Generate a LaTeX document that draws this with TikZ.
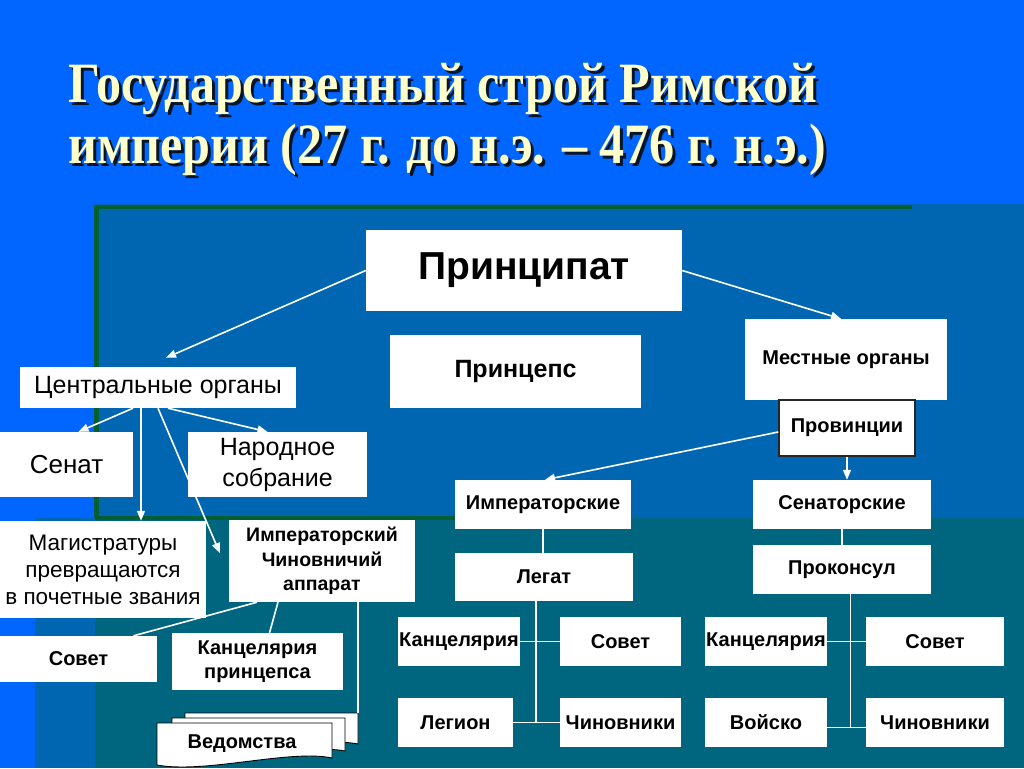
\documentclass[tikz,border=0pt]{standalone}
\usepackage{fontspec}
\setmainfont{Liberation Sans}
\newfontfamily\titlefont[FakeStretch=0.88]{Liberation Serif}
\usetikzlibrary{arrows.meta,calc}
\definecolor{bgblue}{RGB}{0,102,255}
\definecolor{midblue}{RGB}{0,102,178}
\definecolor{tealc}{RGB}{0,102,128}
\definecolor{greenc}{RGB}{0,95,50}
\definecolor{titlecol}{RGB}{255,255,204}
\definecolor{shadowc}{RGB}{10,20,40}
\newcommand{\shadowtext}[1]{\makebox[0pt][l]{\hspace{3pt}\raisebox{-3pt}{\textcolor{shadowc}{#1}}}#1}
\tikzset{
  box/.style={fill=white, inner sep=0pt, align=center, text=black},
  bb/.style={box, font=\fontsize{20}{24}\selectfont\bfseries},
  rb/.style={box, font=\fontsize{25}{31}\selectfont},
  arr/.style={draw=white, line width=1.6pt, -{Triangle[length=10pt,width=8pt]}},
  ln/.style={draw=white, line width=1.6pt},
  doc/.style={fill=white, draw=black, line width=0.9pt},
  ttl/.style={anchor=base west, text=titlecol, font=\titlefont\bfseries\fontsize{57}{61}\selectfont}
}
\begin{document}
\begin{tikzpicture}[x=1pt,y=-1pt]
\useasboundingbox (0,0) rectangle (1024,768);
% background
\fill[bgblue] (0,0) rectangle (1024,768);
\fill[midblue] (95,204) rectangle (1024,768);
\fill[midblue] (35,518) rectangle (95,768);
\fill[tealc] (95,518) rectangle (1024,768);
\fill[greenc] (94,205) rectangle (912,209);
\fill[greenc] (94,205) rectangle (99,518);
\fill[greenc] (95,516) rectangle (455,519.5);
% title
\node[ttl] (t1) at (65,102) {\shadowtext{Государственный строй Римской}};
\node[ttl] (t2) at (65,163) {\shadowtext{империи (27 г. до н.э. – 476 г. н.э.)}};
% top
\node[box, font=\fontsize{39}{44}\selectfont\bfseries, minimum width=316pt, minimum height=81pt] (princ) at (524,270.5) {Принципат};
\node[box, font=\fontsize{25}{30}\selectfont\bfseries, minimum width=251pt, minimum height=73pt] (princeps) at (515.5,371.5) {Принцепс};
\node[bb, minimum width=202pt, minimum height=81pt] (mest) at (846,359.5) {Местные органы};
\node[bb, draw=black!85, line width=1.5pt, minimum width=136pt, minimum height=56pt] (prov) at (847,428) {Провинции};
% central
\node[rb, minimum width=276pt, minimum height=41pt] (central) at (158,387.5) {Центральные органы};
\node[rb, font=\fontsize{26}{31}\selectfont, minimum width=133pt, minimum height=65pt] (senat) at (66.5,464.5) {Сенат};
\node[rb, minimum width=179pt, minimum height=65pt] (narod) at (277.5,464.5) {Народное\\собрание};
\node[rb, font=\fontsize{22.5}{27}\selectfont, minimum width=206pt, minimum height=97pt] (magis) at (103,569.5) {Магистратуры\\превращаются\\в почетные звания};
\node[bb, font=\fontsize{19.5}{24.5}\selectfont\bfseries, minimum width=186pt, minimum height=82pt] (app) at (322,561) {Императорский\\Чиновничий\\аппарат};
\node[bb, minimum width=157pt, minimum height=46pt] (sovL) at (78.5,659) {Совет};
\node[bb, minimum width=171pt, minimum height=57pt] (kancP) at (257.5,661.5) {Канцелярия\\принцепса};
% Vedomstva stack
\coordinate (vedtop) at (358,713);
\path[doc] (185,713) -- (358,713) -- (358,744) .. controls (320,736) and (240,758) .. (185,750) -- cycle;
\path[doc] (172,718) -- (345,718) -- (345,751) .. controls (305,743) and (225,766) .. (172,758) -- cycle;
\path[doc] (157,723) -- (332,723) -- (332,758) .. controls (290,749) and (205,774) .. (157,765) -- cycle;
\node[bb, fill=none] (ved) at (242,744) {Ведомства};
% provinces tree
\node[bb, minimum width=176pt, minimum height=49pt] (imp) at (543,504.5) {Императорские};
\node[bb, minimum width=178pt, minimum height=48pt] (legat) at (544,577) {Легат};
\node[bb, minimum width=122pt, minimum height=49pt] (kanc1) at (459,641.5) {Канцелярия};
\node[bb, minimum width=121pt, minimum height=49pt] (sov1) at (620.5,641.5) {Совет};
\node[bb, minimum width=115pt, minimum height=49pt] (legion) at (455.5,722.5) {Легион};
\node[bb, minimum width=121pt, minimum height=49pt] (chin1) at (620.5,722.5) {Чиновники};
\node[bb, minimum width=178pt, minimum height=49pt] (sen) at (842,504.5) {Сенаторские};
\node[bb, minimum width=178pt, minimum height=49pt] (procons) at (842,569.5) {Проконсул};
\node[bb, minimum width=122pt, minimum height=49pt] (kanc2) at (766,641.5) {Канцелярия};
\node[bb, minimum width=138pt, minimum height=49pt] (sov2) at (935,641.5) {Совет};
\node[bb, minimum width=122pt, minimum height=49pt] (voisko) at (766,722.5) {Войско};
\node[bb, minimum width=138pt, minimum height=49pt] (chin2) at (935,722.5) {Чиновники};
% connectors
\draw[arr] (princ.west) -- ([xshift=8pt,yshift=9pt]central.north);
\draw[arr] (princ.east) -- ([xshift=-5pt]mest.north);
\draw[arr] ([xshift=-25pt]central.south) -- ([xshift=12pt]senat.north);
\draw[arr] ([xshift=-17pt]central.south) -- ([xshift=38pt]magis.north);
\draw[arr] ([xshift=10pt]central.south) -- ([xshift=-10pt]narod.north);
\draw[arr] (central.south) -- ([xshift=-9pt,yshift=8pt]app.west);
\draw[arr] ([yshift=-4pt]prov.west) -- ([xshift=2pt]imp.north);
\draw[arr] (prov.south) -- (prov.south |- sen.north);
\draw[ln] (imp.south) -- (imp.south |- legat.north);
\draw[ln] (sen.south) -- (sen.south |- procons.north);
\coordinate (m1) at ($(kanc1.east)!0.5!(sov1.west)+(-4,0)$);
\coordinate (m2) at ($(kanc2.east)!0.5!(sov2.west)+(4,0)$);
\draw[ln] (m1 |- legat.south) -- (m1 |- legion.east);
\draw[ln] (kanc1.east) -- (sov1.west);
\draw[ln] (legion.east) -- (chin1.west);
\draw[ln] (m2 |- procons.south) -- ([yshift=-5pt]m2 |- voisko.east);
\draw[ln] (kanc2.east) -- (sov2.west);
\draw[ln] ([yshift=-5pt]voisko.east) -- ([yshift=-5pt]chin2.west);
\draw[ln] ([xshift=-65pt]app.south) -- ([xshift=55pt]sovL.north);
\draw[ln] ([xshift=-44pt]app.south) -- ([xshift=12pt]kancP.north);
\draw[ln] ([xshift=36pt]app.south) -- (vedtop);
\end{tikzpicture}
\end{document}
